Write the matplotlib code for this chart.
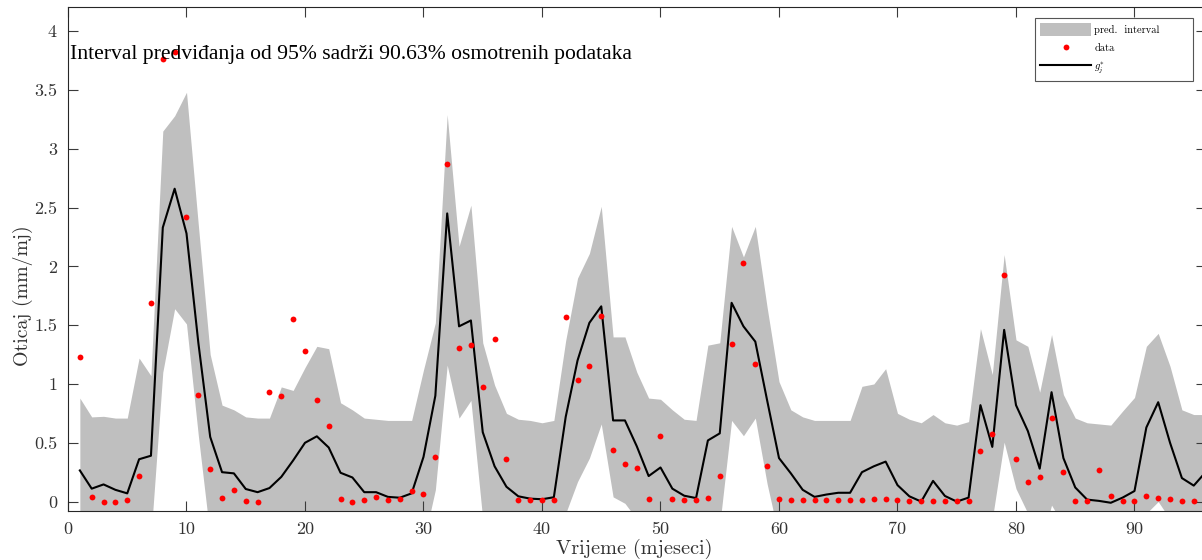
import numpy as np
import matplotlib
matplotlib.use("Agg")
import matplotlib.pyplot as plt

months = list(range(1, 97))

observed = [1.23, 0.04, 0.0, 0.0, 0.015, 0.22, 1.69, 3.76, 3.82, 2.42,
            0.905, 0.28, 0.03, 0.095, 0.006, 0.0, 0.93, 0.90, 1.55, 1.28,
            0.86, 0.646, 0.02, 0.0, 0.013, 0.04, 0.013, 0.024, 0.086, 0.064,
            0.38, 2.87, 1.31, 1.33, 0.97, 1.38, 0.36, 0.01, 0.01, 0.01,
            0.01, 1.57, 1.03, 1.15, 1.58, 0.44, 0.32, 0.285, 0.02, 0.557,
            0.02, 0.013, 0.013, 0.03, 0.22, 1.34, 2.03, 1.17, 0.30, 0.02,
            0.01, 0.01, 0.01, 0.01, 0.01, 0.01, 0.01, 0.024, 0.02, 0.013,
            0.005, 0.005, 0.005, 0.005, 0.005, 0.005, 0.43, 0.576, 1.93, 0.366,
            0.17, 0.21, 0.71, 0.25, 0.005, 0.005, 0.267, 0.048, 0.005, 0.005,
            0.045, 0.034, 0.026, 0.005, 0.005, 0.0]

fitted = [0.265, 0.11, 0.146, 0.10, 0.07, 0.36, 0.39, 2.33, 2.66, 2.28,
          1.35, 0.55, 0.25, 0.24, 0.107, 0.08, 0.115, 0.21, 0.35, 0.50,
          0.555, 0.46, 0.245, 0.205, 0.08, 0.08, 0.04, 0.033, 0.07, 0.38,
          0.90, 2.45, 1.49, 1.54, 0.59, 0.30, 0.126, 0.045, 0.025, 0.02,
          0.037, 0.72, 1.20, 1.52, 1.66, 0.69, 0.69, 0.47, 0.217, 0.29,
          0.11, 0.05, 0.03, 0.52, 0.58, 1.69, 1.49, 1.36, 0.86, 0.37,
          0.24, 0.10, 0.04, 0.06, 0.075, 0.075, 0.25, 0.30, 0.34, 0.14,
          0.045, 0.0, 0.176, 0.048, 0.0, 0.034, 0.82, 0.465, 1.46, 0.82,
          0.60, 0.28, 0.93, 0.37, 0.12, 0.017, 0.006, -0.01, 0.034, 0.09,
          0.63, 0.845, 0.50, 0.20, 0.136, 0.25]

upper = [0.88, 0.72, 0.725, 0.71, 0.71, 1.22, 1.07, 3.15, 3.28, 3.48,
         2.35, 1.25, 0.82, 0.78, 0.72, 0.71, 0.71, 0.975, 0.945, 1.14,
         1.32, 1.30, 0.84, 0.78, 0.71, 0.70, 0.69, 0.69, 0.69, 1.12,
         1.52, 3.29, 2.17, 2.52, 1.35, 0.99, 0.75, 0.70, 0.69, 0.67,
         0.69, 1.37, 1.90, 2.11, 2.51, 1.40, 1.40, 1.10, 0.88, 0.87,
         0.78, 0.70, 0.69, 1.33, 1.35, 2.34, 2.08, 2.34, 1.65, 1.02,
         0.78, 0.72, 0.69, 0.69, 0.69, 0.69, 0.98, 1.0, 1.13, 0.75,
         0.70, 0.67, 0.74, 0.67, 0.65, 0.68, 1.47, 1.08, 2.10, 1.375,
         1.32, 0.93, 1.42, 0.91, 0.71, 0.67, 0.66, 0.65, 0.77, 0.885,
         1.32, 1.43, 1.15, 0.78, 0.74, 0.74]

lower = [-0.35, -0.5, -0.45, -0.5, -0.55, -0.5, -0.3, 1.10, 1.64, 1.51,
         0.56, -0.3, -0.4, -0.35, -0.5, -0.55, -0.5, -0.55, -0.25, -0.15,
         -0.2, -0.4, -0.35, -0.35, -0.55, -0.55, -0.6, -0.6, -0.55, -0.35,
         0.10, 1.16, 0.71, 0.86, -0.15, -0.4, -0.5, -0.6, -0.6, -0.65,
         -0.6, -0.1, 0.17, 0.37, 0.66, 0.04, -0.015, -0.15, -0.45, -0.3,
         -0.55, -0.6, -0.65, -0.3, -0.2, 0.69, 0.56, 0.71, 0.15, -0.3,
         -0.3, -0.5, -0.6, -0.55, -0.55, -0.55, -0.5, -0.4, -0.45, -0.5,
         -0.6, -0.65, -0.4, -0.6, -0.65, -0.6, -0.15, -0.15, 0.505, 0.11,
         -0.1, -0.4, -0.03, -0.2, -0.5, -0.65, -0.65, -0.65, -0.7, -0.7,
         -0.1, 0.0, -0.15, -0.4, -0.45, -0.3]

xticks = [0, 10, 20, 30, 40, 50, 60, 70, 80, 90]
yticks = [0, 0.5, 1, 1.5, 2, 2.5, 3, 3.5, 4]
ytick_labels = ["0", "0.5", "1", "1.5", "2", "2.5", "3", "3.5", "4"]

plt.rcParams['mathtext.fontset'] = 'cm'
plt.rcParams['axes.unicode_minus'] = False

W, H = 1202, 560
fig = plt.figure(figsize=(W / 100, H / 100), dpi=100)
ax = fig.add_axes([68 / W, 49 / H, 1137.6 / W, 504 / H])

tick_gray = '#3a3a3a'
ax.fill_between(months, lower, upper, color='#bfbfbf', linewidth=0,
                label='pred.  interval', zorder=1)
ax.plot(months, observed, linestyle='none', marker='o', markersize=4.2,
        markerfacecolor='red', markeredgecolor='red', markeredgewidth=0,
        label='data', zorder=3)
ax.plot(months, fitted, color='black', linewidth=1.5, label=r'$g_j^{*}$', zorder=2)

ax.set_xlim(0, 96)
ax.set_ylim(-0.08, 4.205)
ax.set_xticks(xticks)
ax.set_yticks(yticks)
ax.set_yticklabels(ytick_labels)

ax.tick_params(direction='in', length=7, width=0.8, colors=tick_gray,
               top=True, right=True, labelsize=13, pad=8)
for lab in ax.get_xticklabels() + ax.get_yticklabels():
    lab.set_family('cmr10')
    lab.set_color('#333333')
for sp in ax.spines.values():
    sp.set_color('#262626')
    sp.set_linewidth(0.8)

ax.set_xlabel('Vrijeme (mjeseci)', family='cmr10', fontsize=14.6,
              color='#333333')
ax.set_ylabel('Oticaj (mm/mj)', family='cmr10', fontsize=14.3,
              color='#333333')
ax.xaxis.set_label_coords((634 - 68) / 1137.6, (511 - 539) / 504)
ax.yaxis.set_label_coords((33 - 68) / 1137.6, (511 - 296) / 504)

ax.text(70 / W, 1 - 55 / H,
        'Interval predviđanja od 95% sadrži 90.63% osmotrenih podataka',
        transform=fig.transFigure, family='Liberation Serif', fontsize=15.6,
        color='black', va='center', ha='left')

leg = ax.legend(loc='upper right', bbox_to_anchor=(1193 / W, 1 - 18 / H),
                bbox_transform=fig.transFigure, borderaxespad=0,
                fancybox=False, framealpha=1, edgecolor='#555555',
                prop={'family': 'cmr10', 'size': 7.5},
                handlelength=4.9, handleheight=1.5, handletextpad=0.3,
                labelspacing=0.55, borderpad=0.5)
leg.get_frame().set_linewidth(0.8)
leg.texts[0].set_text('pred.  interval        ')

fig.savefig('out.png', dpi=100)
